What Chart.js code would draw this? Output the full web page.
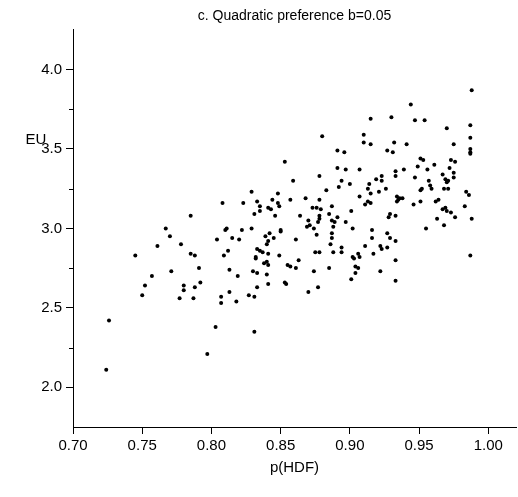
<!DOCTYPE html>
<html>
<head>
<meta charset="utf-8">
<script src="https://cdn.jsdelivr.net/npm/chart.js@4.4.0/dist/chart.umd.min.js"></script>
<style>
  html, body { margin: 0; padding: 0; background: #fff; }
</style>
</head>
<body>
<canvas id="chart" width="518" height="497"></canvas>
<script>
/* scatter: EU against p(HDF), quadratic preference b=0.05 */
const P_HDF = [
  0.853,0.915,0.880,0.910,0.910,0.915,0.891,0.896,0.891,0.897,0.907,0.859,
  0.878,0.894,0.900,0.892,0.883,0.914,0.919,0.923,0.923,0.988,0.944,0.930,
  0.947,0.954,0.987,0.970,0.987,0.932,0.941,0.975,0.927,0.931,0.987,0.987,
  0.987,0.951,0.953,0.973,0.976,0.961,0.949,0.972,0.933,0.939,0.956,0.967,
  0.975,0.933,0.947,0.975,0.969,0.971,0.970,0.957,0.958,0.959,0.952,0.951,
  0.926,0.968,0.829,0.848,0.808,0.823,0.833,0.835,0.835,0.844,0.841,0.843,
  0.848,0.849,0.831,0.846,0.785,0.810,0.811,0.822,0.829,0.842,0.850,0.850,
  0.804,0.815,0.820,0.839,0.845,0.841,0.840,0.785,0.788,0.809,0.812,0.833,
  0.835,0.837,0.832,0.832,0.841,0.849,0.838,0.840,0.841,0.855,0.791,0.813,
  0.819,0.830,0.833,0.840,0.841,0.853,0.854,0.792,0.788,0.833,0.915,0.857,
  0.868,0.878,0.907,0.911,0.913,0.915,0.873,0.876,0.887,0.879,0.901,0.885,
  0.864,0.878,0.878,0.877,0.870,0.887,0.889,0.891,0.897,0.888,0.869,0.871,
  0.874,0.902,0.916,0.887,0.887,0.876,0.861,0.916,0.886,0.894,0.894,0.911,
  0.922,0.923,0.875,0.878,0.888,0.917,0.902,0.903,0.906,0.907,0.863,0.857,
  0.861,0.885,0.904,0.906,0.874,0.904,0.922,0.901,0.877,0.913,0.921,0.984,
  0.986,0.934,0.936,0.938,0.934,0.935,0.946,0.951,0.962,0.964,0.983,0.969,
  0.967,0.970,0.973,0.929,0.928,0.933,0.963,0.976,0.988,0.968,0.955,0.927,
  0.929,0.933,0.927,0.987,0.933,0.933,0.971,0.767,0.770,0.761,0.778,0.745,
  0.771,0.757,0.752,0.780,0.780,0.750,0.777,0.787,0.726,0.724,0.807,0.807,
  0.813,0.818,0.827,0.831,0.803,0.831,0.797,0.870
];
const EU = [
  3.42,3.69,3.58,3.59,3.54,3.53,3.49,3.48,3.38,3.37,3.37,3.30,
  3.33,3.30,3.28,3.26,3.24,3.28,3.31,3.33,3.30,3.87,3.78,3.70,
  3.68,3.68,3.65,3.63,3.57,3.54,3.53,3.53,3.49,3.48,3.50,3.48,
  3.47,3.44,3.43,3.43,3.42,3.40,3.39,3.38,3.36,3.37,3.37,3.34,
  3.35,3.33,3.32,3.32,3.31,3.30,3.29,3.30,3.27,3.25,3.25,3.24,
  3.25,3.25,3.23,3.22,3.16,3.16,3.17,3.14,3.11,3.18,3.13,3.12,
  3.16,3.14,3.09,3.08,3.08,2.99,3.00,2.99,3.00,2.97,2.99,2.98,
  2.93,2.94,2.93,2.95,2.94,2.92,2.90,2.84,2.83,2.83,2.86,2.87,
  2.86,2.85,2.82,2.81,2.84,2.83,2.78,2.79,2.77,2.77,2.75,2.74,
  2.70,2.73,2.72,2.71,2.65,2.66,2.65,2.66,2.63,2.63,3.22,3.18,
  3.19,3.18,3.20,3.15,3.17,3.16,3.13,3.13,3.14,3.12,3.11,3.09,
  3.08,3.08,3.06,3.04,3.05,3.05,3.04,3.07,3.04,3.01,3.01,3.02,
  3.00,3.00,2.99,2.97,2.94,2.96,2.93,2.94,2.90,2.88,2.85,2.89,
  2.89,2.87,2.85,2.85,2.85,2.84,2.82,2.81,2.84,2.82,2.80,2.76,
  2.75,2.75,2.76,2.75,2.73,2.72,2.73,2.68,2.63,3.25,3.23,3.23,
  3.21,3.20,3.19,3.19,3.17,3.18,3.15,3.17,3.17,3.18,3.14,3.13,
  3.12,3.11,3.10,3.09,3.07,3.08,3.06,3.07,3.06,3.02,3.00,2.97,
  2.94,2.92,2.88,2.83,2.80,2.67,3.25,3.00,2.95,2.89,2.90,2.83,
  2.73,2.70,2.64,2.64,2.61,2.58,2.56,2.56,2.42,2.11,2.57,2.53,
  2.60,2.54,2.58,2.57,2.38,2.35,2.21,2.60
];

const X_TICKS = [0.70, 0.75, 0.80, 0.85, 0.90, 0.95, 1.00];
const Y_TICKS = [2.0, 2.5, 3.0, 3.5, 4.0];
const Y_MINOR = [2.25, 2.75, 3.25, 3.75];

const TITLE = 'c. Quadratic preference b=0.05';
const X_TITLE = 'p(HDF)';
const Y_TITLE = 'EU';

const FONT = '"Liberation Sans", Arial, sans-serif';

// short minor ticks on the y axis and the horizontal "EU" label
const extras = {
  id: 'extras',
  afterDraw(chart) {
    const ctx = chart.ctx;
    const y = chart.scales.y;
    const left = chart.chartArea.left;
    ctx.save();
    ctx.strokeStyle = '#000';
    ctx.lineWidth = 1;
    Y_MINOR.forEach(v => {
      const py = Math.round(y.getPixelForValue(v)) + 0.5;
      ctx.beginPath();
      ctx.moveTo(left - 4, py);
      ctx.lineTo(left, py);
      ctx.stroke();
    });
    ctx.fillStyle = '#000';
    ctx.font = '15px ' + FONT;
    ctx.textAlign = 'center';
    ctx.textBaseline = 'middle';
    ctx.fillText(Y_TITLE, 36, 140);
    ctx.restore();
  }
};

new Chart(document.getElementById('chart'), {
  type: 'scatter',
  data: {
    datasets: [{
      data: P_HDF.map((x, i) => ({ x, y: EU[i] })),
      backgroundColor: '#000',
      borderWidth: 0,
      pointRadius: 2,
      pointHoverRadius: 2,
    }],
  },
  options: {
    responsive: false,
    animation: false,
    layout: { padding: { right: 2 } },
    plugins: {
      legend: { display: false },
      tooltip: { enabled: false },
      title: {
        display: true,
        fullSize: false,
        text: TITLE,
        color: '#000',
        font: { family: FONT, size: 14, weight: 'normal', lineHeight: 1.2 },
        padding: { top: 8, bottom: 5 },
      },
    },
    scales: {
      x: {
        type: 'linear',
        min: 0.70,
        max: 1.02,
        afterBuildTicks: (s) => { s.ticks = X_TICKS.map(v => ({ value: v })); },
        afterFit: (s) => { s.height = 70; },
        ticks: {
          color: '#000',
          font: { family: FONT, size: 15 },
          padding: 3,
          maxRotation: 0,
          callback: (v) => Number(v).toFixed(2),
        },
        grid: { display: true, drawOnChartArea: false, drawTicks: true, tickLength: 7, tickColor: '#000' },
        border: { display: true, color: '#000', width: 1 },
        title: {
          display: true,
          text: X_TITLE,
          color: '#000',
          font: { family: FONT, size: 15 },
          padding: { top: 0, bottom: 20 },
        },
      },
      y: {
        type: 'linear',
        min: 1.75,
        max: 4.25,
        afterBuildTicks: (s) => { s.ticks = Y_TICKS.map(v => ({ value: v })); },
        afterFit: (s) => { s.width = 73; },
        ticks: {
          color: '#000',
          font: { family: FONT, size: 15 },
          padding: 4,
          callback: (v) => Number(v).toFixed(1),
        },
        grid: { display: true, drawOnChartArea: false, drawTicks: true, tickLength: 7, tickColor: '#000' },
        border: { display: true, color: '#000', width: 1 },
      },
    },
  },
  plugins: [extras],
});
</script>
</body>
</html>
